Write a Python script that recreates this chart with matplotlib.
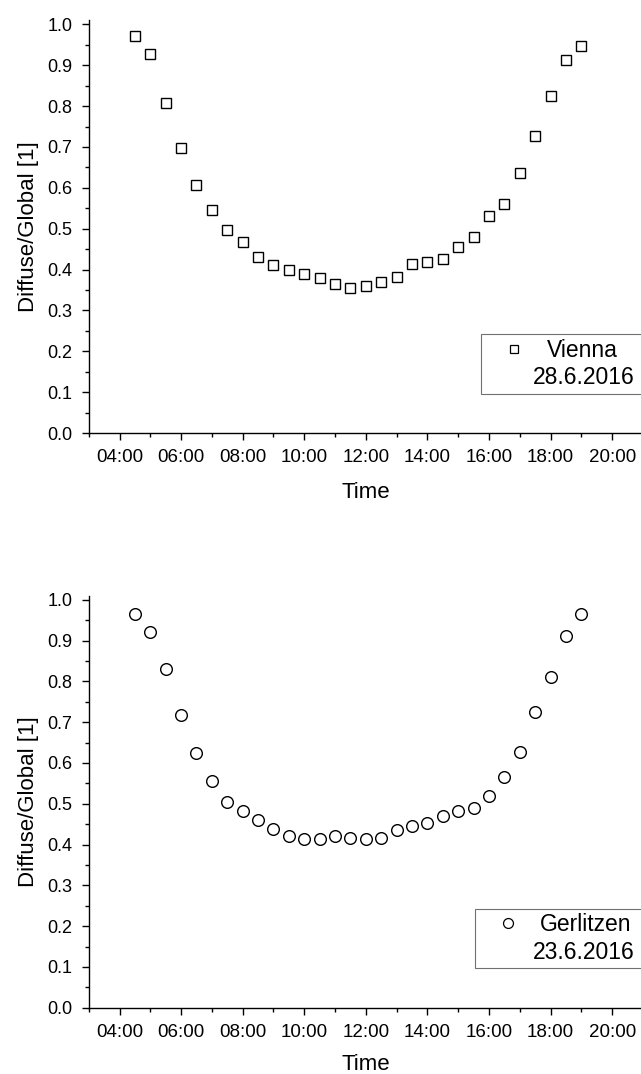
import matplotlib
matplotlib.use("Agg")
import matplotlib.pyplot as plt
from matplotlib.lines import Line2D
from matplotlib.ticker import MultipleLocator, FuncFormatter

plt.rcParams['font.family'] = ['Liberation Sans', 'DejaVu Sans']

# half-hourly sample times (local time)
times = ["04:30", "05:00", "05:30", "06:00", "06:30", "07:00", "07:30", "08:00",
         "08:30", "09:00", "09:30", "10:00", "10:30", "11:00", "11:30", "12:00",
         "12:30", "13:00", "13:30", "14:00", "14:30", "15:00", "15:30", "16:00",
         "16:30", "17:00", "17:30", "18:00", "18:30", "19:00"]

vienna = [0.971, 0.927, 0.808, 0.697, 0.607, 0.547, 0.498, 0.467,
          0.431, 0.411, 0.400, 0.390, 0.379, 0.364, 0.356, 0.360,
          0.370, 0.382, 0.413, 0.418, 0.427, 0.456, 0.480, 0.531,
          0.561, 0.637, 0.728, 0.825, 0.912, 0.946]

gerlitzen = [0.966, 0.922, 0.830, 0.717, 0.625, 0.556, 0.504, 0.482,
             0.460, 0.438, 0.420, 0.414, 0.414, 0.421, 0.416, 0.414,
             0.417, 0.436, 0.446, 0.453, 0.471, 0.482, 0.489, 0.520,
             0.565, 0.628, 0.725, 0.810, 0.911, 0.966]

vienna_label = ["Vienna", "28.6.2016"]
gerlitzen_label = ["Gerlitzen", "23.6.2016"]


def to_hours(t):
    h, m = t.split(":")
    return int(h) + int(m) / 60.0


hours = [to_hours(t) for t in times]

fig = plt.figure(figsize=(6.41, 10.74), dpi=100)
ax_top = fig.add_axes([0.1384, 0.5968, 0.8647, 0.3843])
ax_bot = fig.add_axes([0.1384, 0.0617, 0.8647, 0.3837])


def style_axis(ax, xlabelpad):
    ax.set_xlim(3, 21)
    ax.set_ylim(0, 1.01)
    for side in ('top', 'right'):
        ax.spines[side].set_visible(False)
    for side in ('left', 'bottom'):
        ax.spines[side].set_linewidth(1.0)
    ax.xaxis.set_major_locator(MultipleLocator(2))
    ax.xaxis.set_minor_locator(MultipleLocator(1))
    ax.xaxis.set_major_formatter(FuncFormatter(lambda v, p: f"{int(round(v)):02d}:00"))
    ax.yaxis.set_major_locator(MultipleLocator(0.1))
    ax.yaxis.set_minor_locator(MultipleLocator(0.05))
    ax.yaxis.set_major_formatter(FuncFormatter(lambda v, p: f"{v:.1f}"))
    ax.tick_params(which='major', direction='out', length=5.3, width=1.0)
    ax.tick_params(which='minor', direction='out', length=3.0, width=1.0)
    ax.tick_params(axis='x', which='major', labelsize=13.5, pad=6.5)
    ax.tick_params(axis='y', which='major', labelsize=13, pad=6.5)
    ax.set_xlabel("Time", fontsize=16, labelpad=xlabelpad)
    ax.set_ylabel("Diffuse/Global [1]", fontsize=16, labelpad=6)


def add_legend(ax, marker, ms, labels, anchor, date_shift):
    handles = [Line2D([], [], linestyle='none', marker=marker, markersize=ms * 0.85,
                      markerfacecolor='none', markeredgecolor='black', markeredgewidth=0.9),
               Line2D([], [], linestyle='none')]
    leg = ax.legend(handles, labels, loc='lower left', bbox_to_anchor=anchor,
                    borderaxespad=0, fontsize=16.5, frameon=True, fancybox=False,
                    framealpha=1, edgecolor='#707070', handlelength=2.45,
                    handletextpad=0.2, borderpad=0.2, labelspacing=0.2)
    leg.get_frame().set_linewidth(0.8)
    # the date line sits a little further left so both lines look centred
    leg.get_texts()[1].set_x(date_shift)
    return leg


style_axis(ax_top, 11)
ax_top.plot(hours, vienna, linestyle='none', marker='s', markersize=7.6,
            markerfacecolor='none', markeredgecolor='black', markeredgewidth=1.0,
            clip_on=False)
add_legend(ax_top, 's', 7.6, vienna_label, (0.708, 0.0945), -14)

style_axis(ax_bot, 9.5)
ax_bot.plot(hours, gerlitzen, linestyle='none', marker='o', markersize=8.4,
            markerfacecolor='none', markeredgecolor='black', markeredgewidth=1.0,
            clip_on=False)
add_legend(ax_bot, 'o', 8.4, gerlitzen_label, (0.697, 0.0956), -7)

fig.savefig("out.png", dpi=100)
